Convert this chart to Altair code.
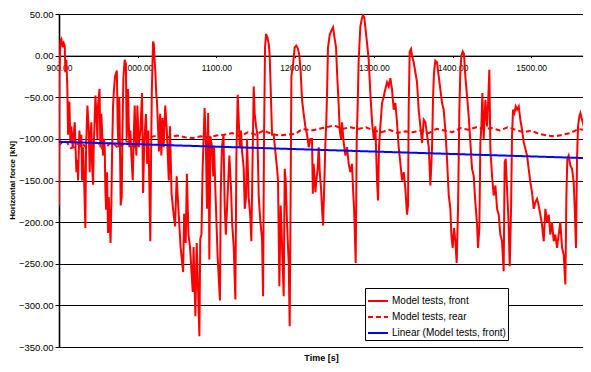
import altair as alt
import pandas as pd

# ---------------- data ----------------
front_time = [
    900.0, 900.5, 901.8, 903.0, 904.7, 906.0, 907.3, 908.1, 909.4, 910.6,
    911.5, 912.3, 913.2, 914.5, 915.7, 917.4, 918.7, 920.0, 921.2, 922.1,
    923.4, 924.2, 925.0, 925.9, 927.2, 928.4, 929.3, 930.6, 931.8, 933.5,
    934.4, 936.1, 937.8, 939.0, 939.9, 941.1, 942.0, 943.3, 944.1, 945.4,
    946.3, 947.5, 948.8, 949.6, 951.5, 952.6, 953.8, 954.7, 956.0, 957.2,
    958.1, 958.9, 959.8, 961.0, 962.3, 963.2, 965.5, 966.5, 967.4, 968.7,
    969.9, 971.2, 973.5, 974.5, 975.5, 976.7, 978.4, 979.7, 980.5, 981.8,
    983.5, 985.0, 986.0, 987.0, 987.7, 989.4, 990.7, 992.0, 993.7, 994.9,
    996.2, 997.0, 998.3, 999.6, 1001.3, 1003.4,
    1005.5, 1006.8, 1008.5, 1010.5, 1012.0, 1013.5, 1015.0, 1016.0, 1017.0, 1018.0,
    1019.5, 1020.5, 1021.5, 1022.5, 1023.5, 1024.5, 1026.0, 1027.0, 1028.5, 1030.0,
    1031.5, 1033.0, 1035.0, 1037.0, 1039.5, 1041.0, 1043.0, 1045.0, 1047.5, 1049.5,
    1051.5, 1054.5, 1057.7, 1059.0, 1061.0, 1062.5, 1064.5, 1066.5, 1069.9, 1071.0,
    1073.3, 1075.0, 1078.4, 1079.5, 1081.0, 1082.5, 1085.0, 1086.5, 1088.0, 1089.5,
    1090.5, 1091.0, 1092.5, 1094.5, 1096.0, 1097.0, 1099.0, 1101.5, 1104.5, 1105.5,
    1107.0, 1109.0, 1110.5, 1112.0,
    1116.5, 1118.6, 1119.9, 1122.0, 1124.1, 1125.4, 1127.1, 1128.3, 1129.6, 1131.3,
    1132.6, 1134.7, 1136.0, 1137.7, 1138.9, 1141.0, 1143.2, 1144.4, 1145.3, 1147.4,
    1148.7, 1150.4, 1152.1, 1153.8, 1155.9, 1158.0, 1159.3, 1160.5, 1161.8, 1163.1,
    1164.8, 1166.5, 1167.7, 1169.0, 1170.7, 1172.8, 1174.9, 1177.0, 1178.3, 1180.0,
    1181.7, 1183.0, 1185.5, 1186.8, 1188.1, 1189.7, 1191.9, 1193.1, 1194.0, 1195.3,
    1197.4, 1199.5, 1201.6, 1203.7, 1205.4, 1207.1, 1208.8, 1210.9, 1213.0, 1215.2,
    1217.3, 1219.4,
    1221.5, 1222.5, 1223.6, 1225.8, 1227.0, 1228.7, 1230.0, 1231.3, 1233.0, 1234.2, 1235.5,
    1237.2, 1238.5, 1239.7, 1240.6, 1241.8, 1244.0, 1246.1, 1248.2, 1250.3, 1252.0,
    1253.3, 1255.4, 1256.7, 1258.4, 1259.6, 1261.8, 1263.9, 1266.0, 1268.1, 1270.2,
    1272.3, 1273.6, 1274.9, 1275.7, 1277.0, 1278.3, 1279.5, 1280.8, 1282.9, 1285.0,
    1286.3, 1288.0, 1289.7, 1291.4, 1293.5, 1295.6, 1297.8, 1299.9, 1302.0, 1304.1,
    1305.4, 1306.6, 1308.3, 1310.5, 1312.6, 1314.7, 1316.8, 1318.9, 1321.0, 1323.2,
    1325.3, 1327.4,
    1329.5, 1331.6, 1333.8, 1335.9, 1338.0, 1340.1, 1342.2, 1343.5, 1344.3, 1345.6,
    1347.3, 1348.6, 1350.7, 1352.8, 1354.9, 1357.0, 1359.2, 1361.3, 1363.4, 1365.5,
    1367.6, 1369.8, 1371.9, 1374.0, 1375.3, 1376.5, 1378.2, 1380.3, 1382.5, 1384.6,
    1386.7, 1388.8, 1390.9, 1393.0, 1395.2, 1397.3, 1398.5, 1400.2, 1401.9, 1403.6,
    1405.3, 1407.0, 1408.7, 1410.0, 1411.3, 1413.0, 1414.6, 1416.3, 1418.5, 1420.6,
    1422.7, 1424.8, 1426.9, 1429.0, 1431.2, 1432.4, 1434.1, 1435.4,
    1436.7, 1437.9, 1439.6, 1441.8, 1443.9, 1445.1, 1446.8, 1448.1, 1450.2, 1452.3,
    1454.5, 1456.6, 1458.7, 1460.8, 1462.9, 1465.0, 1466.3, 1467.6, 1469.3, 1471.0,
    1472.7, 1474.4, 1475.6, 1476.9, 1478.6, 1480.3, 1482.0, 1484.1, 1486.2, 1488.3,
    1490.5, 1492.6, 1494.7, 1496.8, 1498.9, 1501.0, 1503.2, 1505.3, 1507.4, 1509.5,
    1511.6, 1513.7, 1515.9, 1518.0, 1520.1, 1522.2, 1524.3, 1526.4, 1528.6, 1530.7,
    1532.8, 1534.9, 1537.0, 1539.2, 1541.3, 1543.4, 1544.7, 1545.9, 1547.6, 1549.7,
    1551.9, 1554.0, 1555.3, 1556.9, 1558.2, 1559.5, 1561.2, 1562.5, 1564.6, 1566.7,
    1568.8, 1571.0, 1573.1, 1576.4,
]
front_force = [
    -180, -25, 18, 20, 10, 15, 12, -20, -5, -40,
    -95, -75, -55, -105, -85, -110, -95, -80, -115, -140,
    -125, -150, -120, -90, -110, -95, -150, -110, -145, -207,
    -110, -60, -90, -140, -100, -80, -130, -155, -110, -75,
    -48, -70, -100, -60, -40, -110, -70, -90, -120, -100,
    -110, -160, -185, -140, -213, -170, -225, -180, -120, -60,
    -40, -25, -18, -80, -110, -50, -180, -170, -100, -27,
    -5, -10, -100, -70, -40, -110, -90, -120, -150, -100,
    -60, -90, -120, -60, -110, -90,
    -45, -165, -100, -70, -130, -90, -165, -223, -120, -40,
    17, 14, -5, -20, -45, -55, -90, -115, -70, -120,
    -75, -110, -60, -90, -150, -85, -165, -185, -205, -145,
    -180, -230, -260, -190, -225, -142, -215, -230, -284, -230,
    -313, -225, -337, -220, -215, -136, -63, -100, -184, -69,
    -150, -245, -97, -110, -145, -110, -170, -240, -294, -165,
    -110, -95, -180, -215,
    -120, -160, -200, -230, -293, -120, -47, -75, -110, -90,
    -115, -135, -184, -170, -100, -170, -195, -223, -165, -37,
    -70, -85, -95, -170, -200, -220, -289, -100, 10, 26,
    22, 14, 0, -40, -95, -95, -115, -135, -150, -277,
    -180, -215, -289, -136, -150, -200, -250, -325, -210, -25,
    -10, 10, 12, 8, 0, -20, -53, -70, -85, -95,
    -110, -100,
    -100, -166, -130, -164, -150, -135, -110, -140, -160, -184, -204,
    -150, -105, -77, -45, 10, 25, 30, 34, 20, 10,
    -20, -60, -90, -100, -80, -105, -120, -110, -130, -140,
    -130, -160, -184, -207, -249, -100, -60, -5, 35, 45,
    49, 45, 30, 15, -5, -45, -80, -100, -85, -150,
    -174, -110, -85, -57, -49, -40, -32, -37, -27, -41,
    -65, -57,
    -80, -110, -130, -150, -140, -160, -191, -180, -65, 5,
    8, 0, -8, -20, -32, -65, -85, -105, -77, -80,
    -95, -110, -156, -110, -50, -20, -6, -8, -25, -41,
    -57, -65, -89, -124, -168, -184, -215, -231, -207, -223,
    -249, -184, -65, -18, 0, 5, 2, -25, -49, -73,
    -104, -136, -144, -176, -203, -231, -207, -104,
    -85, -45, -100, -53, -85, -60, -17, -112, -144, -168,
    -156, -184, -191, -215, -223, -259, -128, -124, -160, -195,
    -253, -184, -97, -65, -69, -61, -65, -61, -77, -89,
    -104, -112, -120, -136, -152, -164, -184, -176, -172, -180,
    -191, -203, -223, -184, -200, -191, -215, -200, -223, -215,
    -231, -215, -200, -231, -239, -275, -168, -124, -120, -132,
    -136, -152, -184, -231, -124, -85, -73, -69, -77, -85,
    -93, -89, -97, -93,
]

rear_time = [
    900, 905, 910, 915, 920, 925, 930, 935, 940, 945, 950, 955, 960, 965, 970, 975,
    980, 985, 990, 995, 1000, 1010, 1020, 1030, 1040, 1050, 1060, 1070, 1080, 1090,
    1100, 1110, 1120, 1130, 1140, 1150, 1160, 1170, 1180, 1190,
    1200, 1210, 1220, 1230, 1240, 1250, 1260, 1270, 1280, 1290,
    1300, 1310, 1320, 1330, 1340, 1350, 1360, 1370, 1380, 1390,
    1400, 1410, 1420, 1430, 1440, 1450, 1460, 1470, 1480, 1490,
    1500, 1510, 1520, 1530, 1540, 1550, 1560, 1570, 1576,
]
rear_force = [
    -108, -103, -104, -111, -110, -104, -106, -111, -109, -104, -105, -112, -110, -105,
    -106, -111, -108, -103, -104, -110,
    -102, -100, -97, -95, -98, -96, -98, -99, -97, -98,
    -96, -95, -93, -97, -92, -95, -90, -94, -96, -95,
    -94, -88, -90, -88, -86, -84, -88, -86, -88, -86,
    -90, -92, -89, -93, -91, -92, -90, -93, -88, -90,
    -92, -87, -89, -86, -88, -87, -90, -86, -89, -92,
    -90, -94, -96, -97, -95, -93, -88, -90, -92,
]

trend_time = [900, 1576.4]
trend_force = [-103.5, -123.3]

series_names = ["Model tests, front", "Model tests, rear", "Linear (Model tests, front)"]
series_colors = ["#ff0000", "#ff0000", "#0000ff"]
series_dashes = [[1, 0], [5, 3], [1, 0]]
y_ticks = [50, 0, -50, -100, -150, -200, -250, -300, -350]
x_ticks = [900, 1000, 1100, 1200, 1300, 1400, 1500]

FONT = "Liberation Sans"
PLOT_H = 333
ZERO_FROM_TOP = PLOT_H * 50 / 400


def frame(t, f, name):
    return pd.DataFrame({"time": t, "force": f, "series": name})


df_front = frame(front_time, front_force, series_names[0])
df_rear = frame(rear_time, rear_force, series_names[1])
df_trend = frame(trend_time, trend_force, series_names[2])

legend = alt.Legend(
    title=None, orient="none", legendX=306, legendY=274,
    fillColor="white", strokeColor="black", padding=2,
    symbolType="stroke", symbolSize=400, symbolStrokeWidth=2,
    labelFont=FONT, labelFontSize=10, labelColor="black", labelOffset=3,
    rowPadding=0,
)

x_enc = alt.X(
    "time:Q",
    scale=alt.Scale(domain=[900, 1565.8], nice=False, zero=False),
    axis=alt.Axis(
        values=x_ticks, format=".2f", orient="bottom",
        offset=-(PLOT_H - ZERO_FROM_TOP),
        grid=False, domainColor="black", domainWidth=1,
        tickColor="black", tickSize=2, labelPadding=6, labelFlush=False,
        labelFont=FONT, labelFontSize=8.5, labelColor="black",
        title="Time  [s]", titleFont=FONT, titleFontSize=9, titleFontWeight="bold",
        titleColor="black", titleY=305, titleBaseline="alphabetic",
    ),
)
y_enc = alt.Y(
    "force:Q",
    scale=alt.Scale(domain=[-350, 50], nice=False, zero=False),
    axis=alt.Axis(
        values=y_ticks, format=".2f", grid=True, gridColor="black", gridWidth=1,
        domainColor="black", domainWidth=1.6, tickColor="black", tickSize=4,
        labelPadding=2, labelFlush=False, labelFont=FONT, labelFontSize=9.5,
        labelColor="black",
        title="Horizontal force [kN]", titleFont=FONT, titleFontSize=8,
        titleFontWeight="bold", titleColor="black",
        titleX=-47, titleY=166, titleBaseline="middle",
    ),
)
color_enc = alt.Color(
    "series:N",
    scale=alt.Scale(domain=series_names, range=series_colors),
    legend=legend,
)
dash_enc = alt.StrokeDash(
    "series:N",
    scale=alt.Scale(domain=series_names, range=series_dashes),
    legend=legend,
)


def layer(df, width):
    return alt.Chart(df).mark_line(strokeWidth=width, clip=True).encode(
        x=x_enc, y=y_enc, color=color_enc, strokeDash=dash_enc
    )


chart = alt.layer(
    layer(df_front, 2),
    layer(df_rear, 2),
    layer(df_trend, 2),
).properties(
    width=524,
    height=PLOT_H,
    autosize=alt.AutoSizeParams(type="none"),
    padding={"left": 51, "top": 6, "right": 0, "bottom": 17},
    background="white",
).configure_view(stroke=None)

chart.save("out.html", embed_options={"renderer": "svg", "actions": False})
